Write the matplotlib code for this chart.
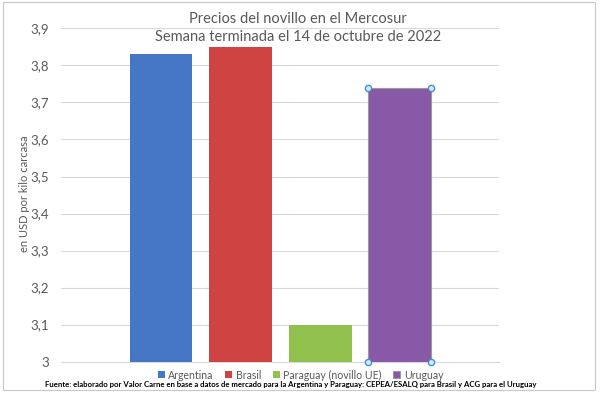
import matplotlib.pyplot as plt
from matplotlib.patches import Rectangle

plt.rcParams['font.family'] = ['Lato', 'DejaVu Sans']

paises = ["Argentina", "Brasil", "Paraguay (novillo UE)", "Uruguay"]
precios = [3.83, 3.85, 3.10, 3.74]
colores = ["#4577C5", "#D04343", "#92C04E", "#8759A6"]
yticks = [3.0, 3.1, 3.2, 3.3, 3.4, 3.5, 3.6, 3.7, 3.8, 3.9]
ytick_labels = ["3", "3,1", "3,2", "3,3", "3,4", "3,5", "3,6", "3,7", "3,8", "3,9"]

gris = "#595959"

fig = plt.figure(figsize=(6, 3.94), dpi=100)
ax = fig.add_axes([0.1017, 0.082, 0.73, 0.846])

bars = []
for i, (p, v, c) in enumerate(zip(paises, precios, colores)):
    b = ax.bar(i, v - 3.0, bottom=3.0, width=0.79, color=c, label=p, zorder=3)
    bars.append(b[0])

# marco de seleccion de Excel sobre la barra de Uruguay
sel = bars[3]
sel.set_edgecolor("#9a9a9a")
sel.set_linewidth(0.8)
x0 = sel.get_x()
x1 = x0 + sel.get_width()
y0 = sel.get_y()
y1 = y0 + sel.get_height()
ax.plot([x0, x1, x0, x1], [y1, y1, y0, y0], "o", ms=4.5, mfc="#dce9f7",
        mec="#3d8fe0", mew=1.0, zorder=5, clip_on=False)

ax.set_xlim(-1.258, 4.25)
ax.set_ylim(3.0, 3.9)
ax.set_yticks(yticks)
ax.set_yticklabels(ytick_labels, color=gris, fontsize=9.5)
ax.set_xticks([])
ax.grid(axis="y", color="#D9D9D9", linewidth=0.8, zorder=0)
ax.tick_params(axis="y", length=0, pad=8.5)
for s in ["top", "right", "left"]:
    ax.spines[s].set_visible(False)
ax.spines["bottom"].set_color("#D9D9D9")
ax.spines["bottom"].set_linewidth(0.8)

ax.set_ylabel("en USD por kilo carcasa", color=gris, fontsize=8.0)
ax.yaxis.set_label_coords(-0.071, 0.505)

fig.text(0.497, 0.952, "Precios del novillo en el Mercosur", ha="center",
         va="center", color=gris, fontsize=10.5)
fig.text(0.497, 0.906, "Semana terminada el 14 de octubre de 2022", ha="center",
         va="center", color=gris, fontsize=10.5)

leg = fig.legend(loc="center", bbox_to_anchor=(0.501, 0.048), ncol=4,
                 frameon=False, fontsize=7.6, handlelength=0.65, handleheight=0.65,
                 handletextpad=0.35, columnspacing=1.1, labelcolor=gris,
                 borderpad=0.1)

fig.text(0.485, 0.025, "Fuente: elaborado por Valor Carne en base a datos de mercado "
         "para la Argentina y Paraguay: CEPEA/ESALQ para Brasil y ACG para el Uruguay",
         ha="center", va="center", fontsize=5.6, fontweight="bold", color="black")

# borde del grafico dentro de la planilla
fig.patches.append(Rectangle((0.005, 0.01), 0.987, 0.985, transform=fig.transFigure,
                             fill=False, edgecolor="#C8C8C8", linewidth=0.8))

fig.savefig("out.png", dpi=100)
